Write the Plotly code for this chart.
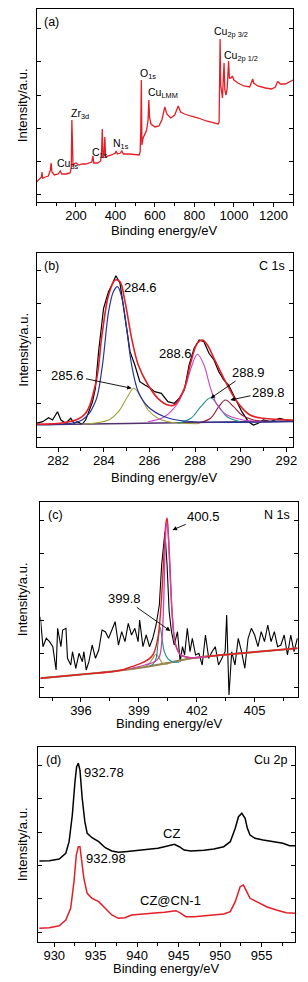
import plotly.graph_objects as go

FONT = "Liberation Sans, Arial, sans-serif"
RED = "rgb(228,30,38)"

# ---------------- Panel (a): survey ----------------
a_ev = [0, 10, 20, 25, 28, 31, 45, 60, 70, 74, 78, 90, 110, 120, 128, 150, 170, 176, 179, 182, 185, 190, 200,
        215, 230, 250, 270, 280, 286, 290, 310, 325, 330, 333, 337, 342, 346, 350, 360, 380, 400, 403, 410, 425,
        432, 440, 470, 500, 520, 525, 528, 531, 534, 540, 550, 558, 565, 569, 573, 580, 600, 620, 635, 645, 650,
        660, 680, 700, 712, 718, 730, 750, 780, 820, 860, 900, 920, 925, 928, 930, 933, 937, 942, 946, 950, 954,
        960, 966, 970, 973, 977, 985, 992, 1000, 1020, 1050, 1080, 1090, 1095, 1100, 1120, 1160, 1190, 1210,
        1220, 1225, 1235, 1260, 1280, 1300]
a_int = [20, 22, 24, 25, 30, 24, 25, 26, 32, 39, 30, 27, 28, 31, 28, 28, 29, 34, 82, 52, 36, 38, 39,
         37, 38, 38, 39, 40, 46, 39, 39, 41, 52, 73, 44, 47, 65, 45, 46, 47, 49, 51, 48, 49,
         51, 48, 48, 47, 47, 50, 72, 122, 57, 64, 69, 72, 82, 102, 84, 78, 75, 76, 82, 92, 95,
         88, 84, 87, 94, 96, 90, 88, 86, 84, 81, 79, 78, 80, 142, 163, 117, 107, 104, 122, 139, 112,
         107, 114, 140, 141, 124, 124, 126, 122, 119, 116, 115, 121, 123, 119, 116, 114, 113, 115,
         120, 120, 118, 118, 120, 122]
a_ticks = [200, 400, 600, 800, 1000, 1200]
a_lab_text = ["Cu<sub>2p 3/2</sub>", "Cu<sub>2p 1/2</sub>", "O<sub>1s</sub>", "Cu<sub>LMM</sub>",
              "Zr<sub>3d</sub>", "N<sub>1s</sub>", "C<sub>1s</sub>", "Cu<sub>3s</sub>"]
a_lab_ev = [890, 940, 512, 555, 165, 375, 270, 95]
a_lab_int = [170, 146, 128, 109, 88, 58, 49, 38]

# ---------------- Panel (b): C 1s ----------------
b_raw_ev = [281.03, 281.32, 281.58, 281.75, 281.97, 282.12, 282.33, 282.55, 282.70, 282.84, 283.05, 283.20,
            283.34, 283.50, 283.63, 283.77, 283.99, 284.20, 284.35, 284.53, 284.71, 284.93, 285.15, 285.36,
            285.58, 285.80, 286.01, 286.23, 286.52, 286.81, 287.09, 287.31, 287.53, 287.74, 287.96, 288.18,
            288.39, 288.61, 288.83, 289.04, 289.26, 289.47, 289.76, 290.05, 290.34, 290.56, 290.77, 290.99,
            291.28, 291.71, 292.00, 292.29]
b_raw_int = [23.7, 25.3, 29.3, 27.0, 35.3, 27.0, 23.7, 28.7, 23.7, 25.3, 22.7, 27.0,
             35.3, 45.0, 58.7, 95.3, 138.7, 155.0, 162.0, 171.3, 163.7, 128.7, 95.3, 82.0,
             65.3, 62.0, 59.3, 55.3, 53.7, 45.3, 43.7, 48.7, 57.0, 82.0, 98.7, 107.0,
             105.3, 93.7, 87.0, 75.3, 67.0, 62.0, 48.7, 35.3, 25.3, 22.0, 23.7, 27.0,
             25.3, 28.7, 27.0, 25.3]
b_env_ev = [281.03, 283.05, 283.63, 283.92, 284.21, 284.50, 284.71, 284.93, 285.22, 285.51, 285.94, 286.37,
            286.81, 287.09, 287.53, 287.82, 288.10, 288.32, 288.54, 288.83, 289.26, 289.84, 290.41, 290.99,
            292.29]
b_env_int = [22.7, 30.3, 62.0, 112.0, 152.0, 167.0, 165.3, 145.3, 108.7, 82.0, 62.0, 48.7,
             42.0, 42.0, 58.7, 85.3, 103.7, 107.0, 102.0, 88.7, 68.7, 45.3, 32.0, 28.7,
             27.0]
b_c1_ev = [281.03, 283.05, 283.63, 283.92, 284.21, 284.42, 284.60, 284.78, 285.00, 285.22, 285.51, 285.94,
           286.66, 287.53, 289.55, 292.29]
b_c1_int = [22.7, 27.0, 45.3, 78.7, 135.3, 155.3, 160.3, 150.3, 118.7, 82.0, 55.3, 40.3,
            30.3, 26.0, 24.7, 25.3]
b_c2_ev = [283.05, 284.21, 284.64, 285.00, 285.32, 285.65, 285.94, 286.37, 286.95, 288.10]
b_c2_int = [22.7, 27.0, 35.3, 48.7, 58.7, 48.7, 37.0, 28.7, 24.7, 23.3]
b_c3_ev = [285.94, 286.66, 287.24, 287.60, 287.82, 288.10, 288.39, 288.68, 288.97, 289.40, 290.12, 290.99]
b_c3_int = [25.3, 30.3, 43.7, 62.0, 78.7, 92.7, 82.0, 58.7, 42.0, 32.0, 27.0, 25.3]
b_c4_ev = [287.24, 287.82, 288.25, 288.68, 289.04, 289.40, 289.98]
b_c4_int = [23.7, 28.7, 40.3, 49.3, 40.3, 30.3, 25.3]
b_c5_ev = [288.10, 288.68, 289.04, 289.33, 289.69, 290.05, 290.56, 291.28]
b_c5_int = [23.7, 28.7, 40.3, 47.0, 40.3, 32.0, 27.0, 25.3]
b_bg_ev = [281.03, 285.0, 288.0, 292.29]
b_bg_int = [22.3, 23.5, 24.5, 26.0]

# ---------------- Panel (c): N 1s ----------------
c_raw_ev = [393.89, 394.03, 394.20, 394.37, 394.54, 394.71, 394.79, 394.96, 395.05, 395.22, 395.30, 395.47,
            395.56, 395.73, 395.90, 396.07, 396.15, 396.27, 396.41, 396.58, 396.75, 396.92, 397.09, 397.26,
            397.43, 397.60, 397.77, 397.94, 398.11, 398.28, 398.45, 398.62, 398.79, 398.96, 399.04, 399.21,
            399.38, 399.55, 399.72, 399.89, 400.06, 400.18, 400.35, 400.46, 400.57, 400.69, 400.83, 401.00,
            401.14, 401.26, 401.37, 401.51, 401.65, 401.77, 401.94, 402.11, 402.28, 402.45, 402.62, 402.79,
            402.96, 403.13, 403.30, 403.47, 403.55, 403.67, 403.81, 403.98, 404.15, 404.32, 404.49, 404.66,
            404.83, 405.00, 405.17, 405.34, 405.51, 405.68, 405.85, 406.02, 406.19, 406.36, 406.53, 406.70,
            406.87, 407.04, 407.21]
c_raw_int = [80.3, 50.3, 58.7, 55.3, 50.3, 27.0, 68.7, 50.3, 67.0, 68.7, 38.7, 32.0,
             45.3, 28.7, 43.7, 35.3, 45.3, 27.0, 35.3, 52.0, 38.7, 47.0, 67.0, 65.3,
             58.7, 67.0, 75.3, 52.0, 65.3, 55.3, 73.7, 62.0, 68.7, 55.3, 77.0, 50.3,
             62.0, 50.3, 58.7, 72.0, 92.0, 132.0, 165.3, 132.0, 85.3, 65.3, 52.0, 65.3,
             35.3, 50.3, 42.0, 68.7, 45.3, 58.7, 42.0, 43.7, 32.0, 62.0, 38.7, 45.3,
             50.3, 32.0, 38.7, 45.3, 82.0, 2.0, 45.3, 32.0, 58.7, 45.3, 28.7, 58.7,
             68.7, 62.0, 50.3, 65.3, 55.3, 72.0, 55.3, 65.3, 50.3, 52.0, 62.0, 42.0,
             62.0, 45.3, 58.7]
c_env_ev = [393.89, 396.0, 398.0, 398.62, 399.30, 399.72, 399.98, 400.15, 400.29, 400.40, 400.46, 400.52,
            400.63, 400.74, 400.91, 401.17, 401.68, 402.5, 405.0, 407.21]
c_env_int = [18.7, 22.5, 26.5, 30.3, 35.3, 42.0, 58.7, 92.0, 138.7, 173.7, 178.7, 165.3,
             122.0, 78.7, 52.0, 42.0, 39.3, 40.5, 45.0, 48.7]
c_c1_ev = [398.62, 399.30, 399.81, 400.06, 400.20, 400.29, 400.37, 400.44, 400.51, 400.61, 400.73, 400.88,
           401.14, 401.68, 402.5]
c_c1_int = [28.7, 32.0, 35.3, 40.3, 58.7, 98.7, 155.3, 175.3, 165.3, 125.3, 82.0, 53.7,
            42.7, 39.3, 40.5]
c_c2_ev = [399.55, 399.72, 399.89, 399.98, 400.10, 400.20, 400.32, 400.49, 400.74, 401.09]
c_c2_int = [31.5, 32.7, 38.7, 52.0, 69.7, 58.7, 45.3, 38.7, 35.3, 34.7]
c_c3_ev = [399.38, 399.55, 399.72, 399.89, 400.06, 400.23, 400.49]
c_c3_int = [31.0, 33.7, 38.7, 42.7, 38.7, 33.7, 32.7]
c_bg_ev = [393.89, 396.0, 398.0, 399.5, 400.5, 401.5, 403.0, 405.0, 407.21]
c_bg_int = [18.7, 22.5, 26.5, 30.5, 34.0, 38.0, 41.5, 45.0, 48.7]

# ---------------- Panel (d): Cu 2p ----------------
d_cz_ev = [928.21, 929.40, 930.60, 931.39, 931.79, 932.18, 932.50, 932.70, 932.90, 933.10, 933.37, 933.69,
           933.97, 934.56, 935.36, 936.15, 936.94, 937.74, 938.53, 939.33, 940.12, 940.91, 941.71, 942.50,
           943.29, 944.09, 944.48, 945.08, 945.67, 946.47, 947.26, 948.06, 949.25, 950.44, 951.23, 951.83,
           952.22, 952.62, 953.02, 953.29, 953.61, 954.21, 955.20, 956.39, 957.58, 958.37, 959.05]
d_cz_int = [81.0, 81.3, 83.0, 88.7, 100.3, 127.0, 160.3, 175.3, 178.7, 172.0, 143.7, 120.3,
            108.7, 104.3, 100.3, 94.3, 91.0, 89.7, 90.3, 91.0, 92.0, 93.0, 93.7, 93.7,
            95.3, 97.0, 97.7, 95.3, 92.0, 91.0, 91.0, 91.7, 93.0, 95.3, 100.3, 113.7,
            125.3, 128.7, 123.7, 113.7, 107.0, 103.7, 102.0, 100.3, 98.7, 96.3, 96.3]
d_czcn_ev = [928.21, 929.40, 930.60, 931.39, 931.98, 932.38, 932.66, 932.90, 933.10, 933.29, 933.57, 933.97,
             934.56, 935.36, 936.15, 936.94, 937.74, 938.53, 939.33, 940.12, 940.91, 941.71, 942.50, 943.29,
             944.09, 944.68, 945.28, 945.87, 946.87, 948.06, 949.25, 950.44, 951.23, 951.83, 952.42, 952.82,
             953.21, 953.61, 954.40, 955.60, 956.79, 957.98, 959.05]
d_czcn_int = [13.7, 14.3, 16.3, 22.0, 33.7, 60.3, 87.0, 95.3, 95.3, 83.7, 63.7, 48.7,
              43.7, 40.3, 33.7, 27.0, 23.7, 24.3, 27.0, 27.7, 28.0, 28.7, 29.3, 29.7,
              30.3, 31.3, 28.7, 25.3, 25.3, 26.0, 27.0, 28.0, 30.3, 40.3, 55.3, 57.0,
              50.3, 43.7, 40.3, 35.3, 32.0, 29.3, 28.7]

# ---------------- layout geometry ----------------
W, H = 308, 982
panels = {
    # name: (left, right, top, bottom) in px, x range, y range
    "a": ((37, 297, 9, 202), [0, 1300], [0, 193]),
    "b": ((37, 297, 253, 447), [281.05, 292.3], [0, 194]),
    "c": ((41, 302, 502, 697), [393.9, 407.25], [0, 195]),
    "d": ((39, 299, 747, 942), [928.1, 959.05], [0, 195]),
}
xticks = {"a": (200, 100), "b": (2, 1), "c": (3, 1.5), "d": (5, 2.5)}
ytick0 = {"a": 7.1, "b": 10, "c": 10, "d": 10}
xtitle_y = {"a": 230, "b": 477, "c": 723, "d": 968}

fig = go.Figure()
names = ["a", "b", "c", "d"]
axmap = {}
for i, n in enumerate(names):
    suffix = "" if i == 0 else str(i + 1)
    axmap[n] = ("x" + suffix, "y" + suffix)


def add(n, x, y, color, width=1.2, shape="linear"):
    xa, ya = axmap[n]
    fig.add_trace(go.Scatter(x=x, y=y, mode="lines", xaxis=xa, yaxis=ya,
                             line=dict(color=color, width=width, shape=shape),
                             showlegend=False, hoverinfo="skip"))


# (a)
add("a", a_ev, a_int, RED, 1.3)
# (b)
add("b", b_raw_ev, b_raw_int, "black", 1.2)
add("b", b_bg_ev, b_bg_int, "rgb(80,50,110)", 1.6, "spline")
add("b", b_c2_ev, b_c2_int, "rgb(160,160,60)", 1.1, "spline")
add("b", b_c4_ev, b_c4_int, "rgb(30,140,140)", 1.1, "spline")
add("b", b_c5_ev, b_c5_int, "rgb(150,30,50)", 1.1, "spline")
add("b", b_c3_ev, b_c3_int, "rgb(200,70,200)", 1.1, "spline")
add("b", b_c1_ev, b_c1_int, "rgb(40,50,150)", 1.2, "spline")
add("b", b_env_ev, b_env_int, RED, 1.6, "spline")
# (c)
add("c", c_raw_ev, c_raw_int, "black", 1.1)
add("c", c_bg_ev, c_bg_int, "rgb(60,80,170)", 1.2, "spline")
add("c", c_bg_ev, c_bg_int, "rgb(150,130,80)", 2.0, "spline")
add("c", c_c3_ev, c_c3_int, "rgb(160,150,60)", 1.1, "spline")
add("c", c_c2_ev, c_c2_int, "rgb(30,140,140)", 1.1, "spline")
add("c", c_env_ev, c_env_int, RED, 1.4, "spline")
add("c", c_c1_ev, c_c1_int, "rgb(200,70,170)", 1.3, "spline")
# (d)
add("d", d_cz_ev, d_cz_int, "black", 1.5)
add("d", d_czcn_ev, d_czcn_int, RED, 1.5)

layout = dict(width=W, height=H, autosize=False, margin=dict(l=0, r=0, t=0, b=0, pad=0),
              paper_bgcolor="white", plot_bgcolor="white",
              font=dict(family=FONT, size=13, color="black"))
annotations = []
for i, n in enumerate(names):
    (l, r, t, b), xr, yr = panels[n]
    key = "" if i == 0 else str(i + 1)
    dx, mdx = xticks[n]
    xa = dict(
        domain=[l / W, r / W], range=xr, anchor="y" + key,
        showline=True, linecolor="black", linewidth=1, mirror=True,
        ticks="outside", ticklen=4, tickwidth=1, tickcolor="black",
        dtick=dx, tick0=0, showgrid=False, zeroline=False,
        ticklabelstandoff=-3,
        tickfont=dict(size=13, family=FONT),
        minor=dict(ticks="outside", ticklen=3, dtick=mdx, tick0=0, tickcolor="black", showgrid=False),
    )
    if n == "a":
        xa.pop("dtick")
        xa.pop("tick0")
        xa["tickmode"] = "array"
        xa["tickvals"] = a_ticks
    layout["xaxis" + key] = xa
    layout["yaxis" + key] = dict(
        domain=[1 - b / H, 1 - t / H], range=yr, anchor="x" + key,
        showline=True, linecolor="black", linewidth=1, mirror="ticks",
        ticks="inside", ticklen=4, tickwidth=1, tickcolor="black",
        tick0=ytick0[n], dtick=33.3, showticklabels=False, showgrid=False, zeroline=False,
    )
    # axis titles
    annotations.append(dict(text="Binding energy/eV", xref="paper", yref="paper",
                            x=(l + r) / 2 / W, y=1 - xtitle_y[n] / H,
                            xanchor="center", yanchor="middle",
                            showarrow=False, font=dict(size=13, family=FONT)))
    annotations.append(dict(text="Intensity/a.u.", xref="paper", yref="paper",
                            x=23 / W, y=1 - (t + b) / 2 / H, textangle=-90,
                            xanchor="center", yanchor="middle",
                            showarrow=False, font=dict(size=13, family=FONT)))
    # panel letter
    annotations.append(dict(text="(" + n + ")", xref="x%s domain" % key if key else "x domain",
                            yref="y%s domain" % key if key else "y domain",
                            x=0.02, y=0.935, xanchor="left", yanchor="middle", showarrow=False,
                            font=dict(size=12.5, family=FONT)))

# panel titles (right corner)
for key, txt in [("2", "C 1s"), ("3", "N 1s"), ("4", "Cu 2p")]:
    annotations.append(dict(text=txt, xref="x%s domain" % key, yref="y%s domain" % key,
                            x=0.975, y=0.935, xanchor="right", yanchor="middle", showarrow=False,
                            font=dict(size=12.5, family=FONT)))

# (a) peak labels
for t_, xv, yv in zip(a_lab_text, a_lab_ev, a_lab_int):
    annotations.append(dict(text=t_, x=xv, y=yv, xref="x", yref="y", xanchor="left",
                            yanchor="middle", showarrow=False, font=dict(size=10.5, family=FONT)))

# (b) labels without arrows
for t_, xv, yv in [("284.6", 285.61, 160), ("288.6", 287.15, 94)]:
    annotations.append(dict(text=t_, x=xv, y=yv, xref="x2", yref="y2", showarrow=False,
                            xanchor="center", yanchor="middle", font=dict(size=13, family=FONT)))


def arrow_label(txt, ax_, ay_, hx, hy, key):
    annotations.append(dict(text=txt, x=hx, y=hy, ax=ax_, ay=ay_, xref="x" + key, yref="y" + key,
                            axref="x" + key, ayref="y" + key, showarrow=True, arrowhead=2,
                            arrowsize=1, arrowwidth=0.9, arrowcolor="black", standoff=0,
                            font=dict(size=13, family=FONT)))


# (b) arrowed labels: text centre, arrow head
arrow_label("285.6", 282.43, 72, 285.22, 58.7, "2")
arrow_label("288.9", 290.35, 75, 288.68, 48.7, "2")
arrow_label("289.8", 291.22, 55, 289.55, 47.0, "2")
# (c) arrowed labels
arrow_label("400.5", 402.36, 180.3, 400.74, 167, "3")
arrow_label("399.8", 398.23, 98.7, 400.63, 66, "3")

# (d) labels
annotations.append(dict(text="932.78", x=933.33, y=170, xref="x4", yref="y4", xanchor="left",
                        yanchor="middle", showarrow=False, font=dict(size=13, family=FONT)))
annotations.append(dict(text="932.98", x=933.57, y=84, xref="x4", yref="y4", xanchor="left",
                        yanchor="middle", showarrow=False, font=dict(size=13, family=FONT)))
annotations.append(dict(text="CZ", x=944.17, y=109, xref="x4", yref="y4", xanchor="center",
                        yanchor="middle", showarrow=False, font=dict(size=13, family=FONT)))
annotations.append(dict(text="CZ@CN-1", x=944.05, y=42, xref="x4", yref="y4", xanchor="center",
                        yanchor="middle", showarrow=False, font=dict(size=13, family=FONT)))

layout["annotations"] = annotations
fig.update_layout(**layout)
fig.write_html("out.html", config={"responsive": False, "displayModeBar": False, "staticPlot": True},
               post_script="document.body.style.margin='0px';document.body.style.padding='0px';"
                           "document.body.style.overflow='hidden';")
